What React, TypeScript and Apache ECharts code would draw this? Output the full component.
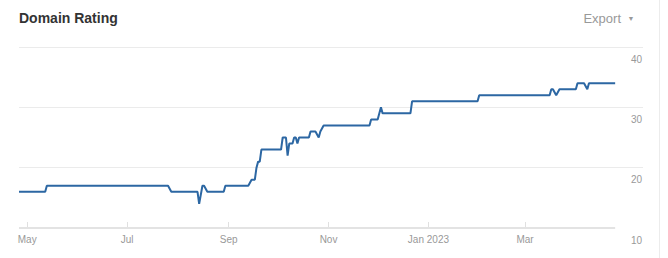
import React, { useEffect, useRef } from "react";
import * as echarts from "echarts";

const dates = [
  "2022-04-26", "2022-05-12", "2022-05-13", "2022-07-26", "2022-07-28",
  "2022-08-13", "2022-08-14", "2022-08-16", "2022-08-17", "2022-08-19",
  "2022-08-29", "2022-08-30", "2022-09-13", "2022-09-15", "2022-09-17",
  "2022-09-18", "2022-09-19", "2022-09-20", "2022-09-21", "2022-10-03",
  "2022-10-04", "2022-10-06", "2022-10-07", "2022-10-08", "2022-10-10",
  "2022-10-11", "2022-10-12", "2022-10-13", "2022-10-14", "2022-10-20",
  "2022-10-21", "2022-10-24", "2022-10-26", "2022-10-27", "2022-10-29",
  "2022-11-26", "2022-11-27", "2022-12-01", "2022-12-03", "2022-12-04",
  "2022-12-21", "2022-12-22", "2023-01-31", "2023-02-01", "2023-03-16",
  "2023-03-17", "2023-03-18", "2023-03-20", "2023-03-22", "2023-04-01",
  "2023-04-02", "2023-04-06", "2023-04-08", "2023-04-09", "2023-04-25",
];

const domainRating = [
  16, 16, 17, 17, 16,
  16, 14, 17, 17, 16,
  16, 17, 17, 18, 18,
  20, 21, 21, 23, 23,
  25, 25, 22, 24, 24,
  25, 25, 24, 25, 25,
  26, 26, 25, 26, 27,
  27, 28, 28, 30, 29,
  29, 31, 31, 32, 32,
  33, 33, 32, 33, 33,
  34, 34, 33, 34, 34,
];

const tickDates = ["2022-05-01", "2022-07-01", "2022-09-01", "2022-11-01", "2023-01-01", "2023-03-01"];
const tickLabels = ["May", "Jul", "Sep", "Nov", "Jan 2023", "Mar"];

const axisMinDate = "2022-04-26";
const axisMaxDate = "2023-05-12";
const yMin = 10;
const yMax = 40;
const yStep = 10;

const FONT = '"Liberation Sans", Arial, sans-serif';

function ts(s: string): number {
  const [y, m, d] = s.split("-").map(Number);
  return new Date(y, m - 1, d).getTime();
}

export default function App() {
  const ref = useRef<HTMLDivElement>(null);

  useEffect(() => {
    if (!ref.current) return;
    const chart = echarts.init(ref.current, null, { renderer: "svg" });
    const tickTs = tickDates.map(ts);
    const seriesData = dates.map((d, i) => [ts(d), domainRating[i]]);

    chart.setOption({
      animation: false,
      backgroundColor: "#ffffff",
      textStyle: { fontFamily: FONT },
      grid: { left: 19, right: 25, top: 47, bottom: 30, containLabel: false },
      graphic: [
        {
          type: "text",
          left: 19,
          top: 11,
          style: {
            text: "Domain Rating",
            fontSize: 14,
            fontWeight: "bold",
            fill: "#333333",
            fontFamily: FONT,
          },
        },
        {
          type: "text",
          x: 621,
          y: 18,
          style: {
            text: "Export",
            fontSize: 13,
            fill: "#999999",
            fontFamily: FONT,
            align: "right",
            verticalAlign: "middle",
          },
        },
        {
          type: "text",
          x: 631,
          y: 18,
          style: {
            text: "▼",
            fontSize: 7,
            fill: "#999999",
            fontFamily: FONT,
            align: "center",
            verticalAlign: "middle",
          },
        },
        {
          type: "line",
          shape: { x1: 659.5, y1: 0, x2: 659.5, y2: 258 },
          style: { stroke: "#ececec", lineWidth: 1 },
        },
      ],
      xAxis: {
        type: "value",
        min: ts(axisMinDate),
        max: ts(axisMaxDate),
        axisLine: { show: false },
        axisTick: {
          show: true,
          inside: true,
          length: 6,
          customValues: tickTs,
          lineStyle: { color: "#e0e0e0", width: 1 },
        },
        splitLine: { show: false },
        axisLabel: {
          customValues: tickTs,
          color: "#999999",
          fontSize: 10,
          fontFamily: FONT,
          margin: 6,
          formatter: (v: number) => {
            const idx = tickTs.indexOf(v);
            return idx >= 0 ? tickLabels[idx] : "";
          },
        },
      },
      yAxis: {
        type: "value",
        position: "right",
        min: yMin,
        max: yMax,
        interval: yStep,
        axisLine: { show: false },
        axisTick: { show: false },
        splitLine: {
          show: true,
          showMinLine: false,
          lineStyle: { color: "#ebebeb", width: 1 },
        },
        axisLabel: {
          inside: true,
          margin: 1,
          color: "#999999",
          fontSize: 10,
          fontFamily: FONT,
          verticalAlign: "top",
          padding: [7, 0, 0, 0],
        },
      },
      series: [
        {
          type: "line",
          data: seriesData,
          showSymbol: false,
          symbol: "none",
          lineStyle: { color: "#2c67a3", width: 2 },
          itemStyle: { color: "#2c67a3" },
          z: 3,
          markLine: {
            silent: true,
            symbol: ["none", "none"],
            label: { show: false },
            lineStyle: { color: "#e3e3e3", width: 2, type: "solid" },
            z: 1,
            data: [
              [
                { coord: [ts(dates[0]), yMin] },
                { coord: [ts(dates[dates.length - 1]), yMin] },
              ],
            ],
          },
        },
      ],
    });

    return () => chart.dispose();
  }, []);

  return (
    <div
      ref={ref}
      style={{ position: "fixed", left: 0, top: 0, width: 668, height: 258, background: "#fff" }}
    />
  );
}
